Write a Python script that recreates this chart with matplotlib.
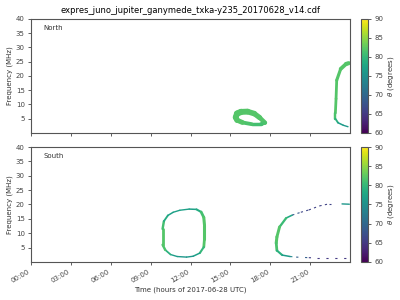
import numpy as np
import matplotlib
matplotlib.use('Agg')
import matplotlib.pyplot as plt
from matplotlib.collections import LineCollection
from matplotlib import cm, colors

# hours of day, frequency (MHz), theta (degrees)
north_loop_t = [15.4, 15.5, 15.8, 16.3, 16.8, 17.2, 17.6, 17.3, 16.6, 15.9, 15.5, 15.4]
north_loop_f = [5.5, 6.8, 7.4, 7.5, 6.8, 5.4, 3.6, 3.1, 3.1, 3.7, 4.5, 5.5]
north_loop_th = [82, 82, 82, 82, 82, 82, 82, 81, 81, 82, 82, 82]
north_loop_w = [4.0, 4.5, 4.5, 4.0, 4.0, 3.5, 3.0, 2.5, 2.5, 3.0, 4.0, 4.0]

north_arc_t = [23.9, 23.7, 23.3, 23.0, 22.95, 22.9, 22.9, 23.1, 23.5, 23.85]
north_arc_f = [24.5, 24.2, 22.5, 18.5, 12.0, 7.0, 5.0, 3.6, 2.7, 2.2]
north_arc_th = [82, 82, 82, 82, 82, 82, 81, 77, 76, 76]
north_arc_w = [3.0, 3.0, 2.5, 2.0, 2.0, 2.0, 1.5, 1.2, 1.0, 1.0]

south_loop_t = [11.9, 12.45, 12.8, 13.0, 13.05, 13.05, 13.0, 12.7, 12.2, 11.7, 11.0, 10.5, 10.1, 9.9, 9.9, 10.0, 10.3, 10.7, 11.2, 11.9]
south_loop_f = [18.4, 18.3, 17.4, 15.5, 13.0, 8.0, 5.2, 3.1, 2.0, 1.7, 1.9, 2.6, 4.2, 6.0, 11.5, 14.2, 16.2, 17.3, 18.0, 18.4]
south_loop_th = [77, 77, 80, 82, 82, 82, 82, 78, 76, 76, 76, 77, 81, 82, 82, 80, 77, 77, 77, 77]
south_loop_w = [1.0, 1.2, 1.8, 2.2, 2.2, 2.2, 1.8, 1.2, 1.0, 1.0, 1.0, 1.0, 1.5, 2.0, 2.0, 1.5, 1.2, 1.0, 1.0, 1.0]

south_arc_t = [19.65, 19.2, 18.7, 18.5, 18.45, 18.5, 18.9, 19.5]
south_arc_f = [16.3, 15.3, 12.2, 8.7, 6.6, 4.0, 2.4, 1.9]
south_arc_th = [77, 79, 82, 82, 82, 81, 77, 76]
south_arc_w = [1.0, 1.3, 2.0, 2.2, 2.2, 1.8, 1.2, 1.0]

south_tail_t = [19.65, 20.3, 20.9, 21.7, 22.4, 22.6]
south_tail_f = [16.3, 17.3, 18.1, 19.5, 20.2, 20.2]
south_tail_th = [70, 67, 66, 66, 66, 66]

south_top_t = [23.4, 23.95]
south_top_f = [20.2, 20.1]
south_top_th = [76, 76]

south_low_t = [19.5, 19.95, 20.9, 21.5, 23.85]
south_low_f = [1.9, 1.7, 1.5, 1.4, 1.4]
south_low_th = [76, 72, 66, 65, 65]

hour_ticks = [0, 3, 6, 9, 12, 15, 18, 21]
hour_labels = ['00:00', '03:00', '06:00', '09:00', '12:00', '15:00', '18:00', '21:00']

cmap = cm.viridis
norm = colors.Normalize(60, 90)


def draw(ax, t, f, th, w=2.0, ls='-'):
    pts = np.array([t, f]).T.reshape(-1, 1, 2)
    segs = np.concatenate([pts[:-1], pts[1:]], axis=1)
    th = np.asarray(th, dtype=float)
    c = 0.5 * (th[:-1] + th[1:])
    if np.ndim(w) > 0:
        w = np.asarray(w, dtype=float)
        w = 0.5 * (w[:-1] + w[1:])
    lc = LineCollection(segs, cmap=cmap, norm=norm, linewidths=w, linestyles=ls,
                        capstyle='round' if ls == '-' else 'butt')
    lc.set_array(c)
    ax.add_collection(lc)


fig = plt.figure(figsize=(4, 3), dpi=100)
ax1 = fig.add_axes([0.0775, 0.5567, 0.7975, 0.38])
ax2 = fig.add_axes([0.0775, 0.1267, 0.7975, 0.3833])
cax1 = fig.add_axes([0.9025, 0.5567, 0.0175, 0.38])
cax2 = fig.add_axes([0.9025, 0.1267, 0.0175, 0.3833])

draw(ax1, north_loop_t, north_loop_f, north_loop_th, north_loop_w)
draw(ax1, north_arc_t, north_arc_f, north_arc_th, north_arc_w)

draw(ax2, south_loop_t, south_loop_f, south_loop_th, south_loop_w)
draw(ax2, south_arc_t, south_arc_f, south_arc_th, south_arc_w)
draw(ax2, south_tail_t, south_tail_f, south_tail_th, 0.8, (0, (2, 3)))
draw(ax2, south_top_t, south_top_f, south_top_th, 1.0)
draw(ax2, south_low_t, south_low_f, south_low_th, 0.8, (0, (2, 6)))

for ax, name in [(ax1, 'North'), (ax2, 'South')]:
    ax.set_xlim(0, 24)
    ax.set_ylim(0, 40)
    ax.set_yticks([5, 10, 15, 20, 25, 30, 35, 40])
    ax.set_xticks(hour_ticks)
    ax.tick_params(labelsize=5, length=2.5, width=0.6, colors='#444444', pad=2)
    for s in ax.spines.values():
        s.set_color('#555555')
        s.set_linewidth(0.8)
    ax.set_ylabel('Frequency (MHz)', fontsize=5, labelpad=2, color='#333333')
    ax.text(0.04, 0.9, name, transform=ax.transAxes, fontsize=5, color='#333333')

ax1.set_xticklabels([])
ax2.set_xticklabels(hour_labels, rotation=30, ha='right')
ax2.set_xlabel('Time (hours of 2017-06-28 UTC)', fontsize=5, labelpad=2, color='#333333')
ax1.set_title('expres_juno_jupiter_ganymede_txka-y235_20170628_v14.cdf', fontsize=6, pad=4)

for cax in (cax1, cax2):
    cb = fig.colorbar(cm.ScalarMappable(norm=norm, cmap=cmap), cax=cax)
    cb.set_ticks([60, 65, 70, 75, 80, 85, 90])
    cb.ax.tick_params(labelsize=5, length=2.5, width=0.6, colors='#444444', pad=2)
    cb.outline.set_edgecolor('#555555')
    cb.outline.set_linewidth(0.8)
    cb.set_label(r'$\theta$ (degrees)', fontsize=5, labelpad=2, color='#333333')

fig.savefig('out.png', dpi=100)
